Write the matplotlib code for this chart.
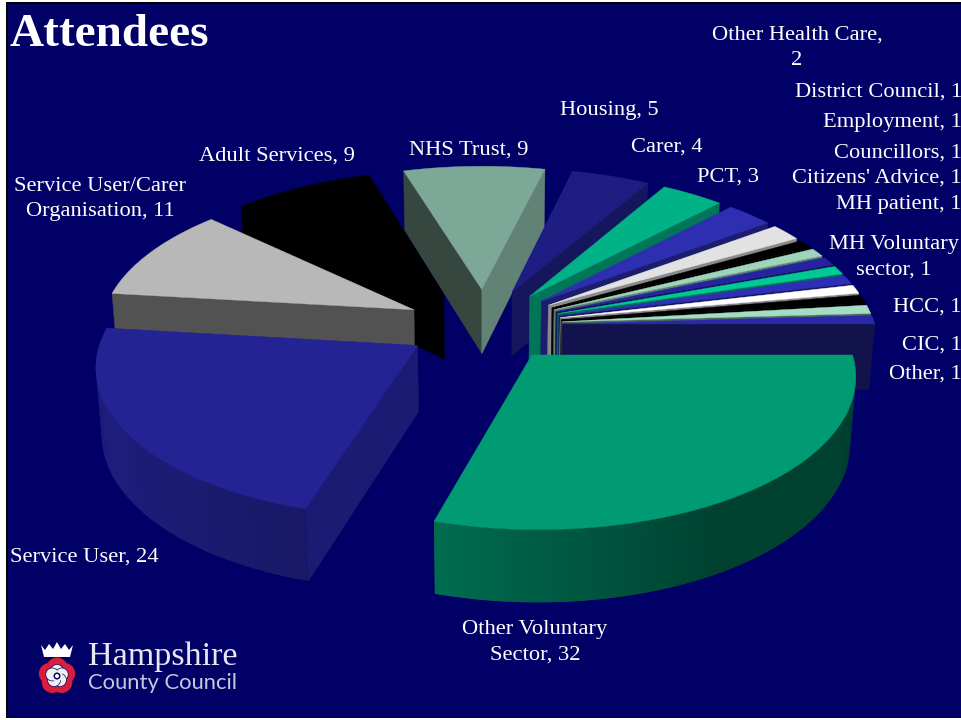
"""Attendees by organisation: exploded 3D pie with hand-rolled perspective."""

import matplotlib
matplotlib.use("Agg")
import matplotlib.pyplot as plt
import numpy as np
from matplotlib.patches import Circle, Polygon

# slices run clockwise from due east
categories = ["Other Voluntary\nSector", "Service User", "Service User/Carer\nOrganisation",
              "Adult Services", "NHS Trust", "Housing", "Carer", "PCT",
              "Other Health Care,\n", "District Council", "Employment", "Councillors",
              "Citizens' Advice", "MH patient", "MH Voluntary\nsector", "HCC", "CIC", "Other"]
values = [32, 24, 11, 9, 9, 5, 4, 3, 2, 1, 1, 1, 1, 1, 1, 1, 1, 1]
top_colors = ["#009b73", "#232394", "#b8b8b8", "#000000", "#7da796", "#1e1e82",
              "#00b286", "#2e2eb0", "#e2e2e2", "#000000", "#9fd4bc", "#2424a0",
              "#00c896", "#2e2eb8", "#ffffff", "#000000", "#a4dcc4", "#2828a8"]

# label anchor: x, y, horizontal alignment
label_pos = [(535, 642, "center"), (10, 557, "left"), (100, 199, "center"),
             (277, 156, "center"), (469, 150, "center"), (609, 110, "center"),
             (667, 147, "center"), (728, 177, "center"), (797, 48, "center"),
             (962, 92, "right"), (962, 123, "right"), (962, 153, "right"),
             (962, 178, "right"), (962, 205, "right"), (894, 257, "center"),
             (962, 307, "right"), (962, 345, "right"), (962, 374, "right")]

BG = "#000066"
SERIF = "Liberation Serif"

# camera and pie geometry
CX, CY = 484, 325
SCALE = 313.0
TILT = np.radians(27.8)
DIST = 7.4
EXPLODE = 0.25
HEIGHT = 0.24
CAM = np.array([0.0, DIST * np.cos(TILT), DIST * np.sin(TILT)])


def project(x, y, z):
    depth = DIST - (y * np.cos(TILT) + z * np.sin(TILT))
    k = SCALE * DIST / depth
    return CX + k * x, CY + k * (y * np.sin(TILT) - z * np.cos(TILT))


def faces_toward_camera(normal, point):
    return np.dot(normal, CAM - np.asarray(point)) > 0


def shade(color, factor):
    rgb = np.array(matplotlib.colors.to_rgb(color)) * factor
    return tuple(rgb)


def wall_factor(az):
    return np.interp(az, [60, 107, 150, 186], [0.42, 0.70, 0.83, 0.92])


def cut_factor(az):
    return np.interp(az, [16, 50, 66, 90, 170], [0.78, 0.63, 0.60, 0.45, 0.42])


def add_face(ax, pts, color, lw=0.3):
    xy = [project(*p) for p in pts]
    ax.add_patch(Polygon(xy, closed=True, facecolor=color, edgecolor=color, lw=lw, snap=False))


def draw_slice(ax, a0, a1, color):
    mid = np.radians((a0 + a1) / 2)
    ox, oy = EXPLODE * np.cos(mid), EXPLODE * np.sin(mid)
    arc = np.radians(np.linspace(a0, a1, max(int(a1 - a0) * 2, 3)))
    rx, ry = ox + np.cos(arc), oy + np.sin(arc)

    # cut faces on both radial edges
    for rim, ang, sign in ((0, arc[0], -1), (-1, arc[-1], 1)):
        normal = np.array([-sign * np.sin(ang), sign * np.cos(ang), 0.0])
        if faces_toward_camera(normal, (ox, oy, 0)):
            az = np.degrees(np.arctan2(normal[1], normal[0])) % 360
            add_face(ax, [(ox, oy, 0), (rx[rim], ry[rim], 0),
                          (rx[rim], ry[rim], -HEIGHT), (ox, oy, -HEIGHT)],
                     shade(color, cut_factor(az)))

    # outer wall as overlapping quads, so no seams show between the shading steps
    last = len(arc) - 1
    for i in range(last):
        j = min(i + 2, last)
        ang = (arc[i] + arc[i + 1]) / 2
        normal = np.array([np.cos(ang), np.sin(ang), 0.0])
        if faces_toward_camera(normal, (rx[i], ry[i], 0)):
            add_face(ax, [(rx[i], ry[i], 0), (rx[j], ry[j], 0),
                          (rx[j], ry[j], -HEIGHT), (rx[i], ry[i], -HEIGHT)],
                     shade(color, wall_factor(np.degrees(ang))), lw=0)

    top = [(ox, oy, 0)] + [(x, y, 0) for x, y in zip(rx, ry)]
    add_face(ax, top, color)


def draw_logo(ax):
    # crown
    crown = [(41, 645), (45, 650), (49, 644), (53, 649), (57, 642), (61, 649),
             (65, 644), (69, 650), (73, 645), (70, 657), (44, 657)]
    ax.add_patch(Polygon(crown, closed=True, fc="white", ec="none", zorder=5))
    # tudor rose
    for i in range(5):
        ang = np.radians(-90 + 72 * i)
        ax.add_patch(Circle((57 + 8 * np.cos(ang), 676 + 8 * np.sin(ang)), 10.5,
                            fc="#d81e3a", ec="none", zorder=5))
    for i in range(5):
        ang = np.radians(-90 + 72 * i)
        ax.add_patch(Circle((57 + 5 * np.cos(ang), 676 + 5 * np.sin(ang)), 6.5,
                            fc="#f0f0f0", ec="#000066", lw=0.5, zorder=6))
    ax.add_patch(Circle((57, 676), 5.5, fc="#f0f0f0", ec="none", zorder=7))
    ax.add_patch(Circle((57, 676), 3.5, fc="#000066", ec="none", zorder=8))
    ax.add_patch(Circle((57, 676), 2, fc="white", ec="none", zorder=9))
    ax.text(88, 657, "Hampshire", family=SERIF, fontsize=24.6, color="#e8e8f2",
            ha="left", va="center")
    ax.text(88, 683, "County Council", family="Lato", fontsize=15.8, color="#c8c8dc",
            ha="left", va="center")


def main():
    fig = plt.figure(figsize=(9.62, 7.2), dpi=100, facecolor="white")
    ax = fig.add_axes([0, 0, 1, 1])
    ax.set_xlim(0, 962)
    ax.set_ylim(720, 0)
    ax.axis("off")

    # slide background with its thin dark frame
    ax.add_patch(Polygon([(6, 2), (962, 2), (962, 718), (6, 718)], closed=True,
                         fc="black", ec="none"))
    ax.add_patch(Polygon([(8, 4), (962, 4), (962, 718), (8, 718)], closed=True,
                         fc=BG, ec="none"))

    total = sum(values)
    edges = np.concatenate([[0], np.cumsum(values)]) / total * 360
    order = sorted(range(len(values)),
                   key=lambda i: np.sin(np.radians((edges[i] + edges[i + 1]) / 2)))
    for i in order:
        draw_slice(ax, edges[i], edges[i + 1], top_colors[i])

    for name, val, (x, y, ha) in zip(categories, values, label_pos):
        if name.endswith("\n"):
            text = f"{name}{val}"
        else:
            text = f"{name}, {val}"
        ax.text(x, y, text, family=SERIF, fontsize=16.2, color="white", ha=ha,
                va="center", multialignment=ha, linespacing=1.47)

    ax.text(10, 35, "Attendees", family=SERIF, fontsize=34, fontweight="bold",
            color="white", ha="left", va="center")
    draw_logo(ax)

    fig.savefig("out.png", dpi=100, facecolor=fig.get_facecolor())
    plt.close(fig)


if __name__ == "__main__":
    main()
